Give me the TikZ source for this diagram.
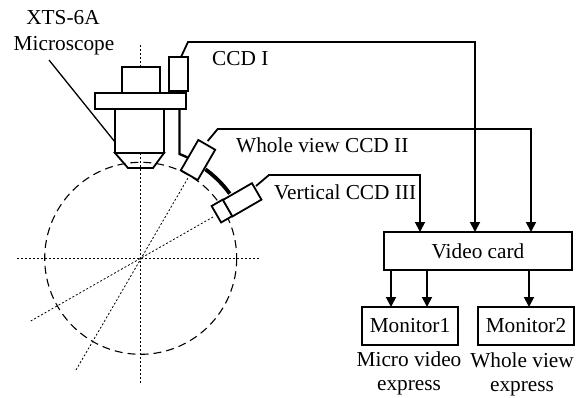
\documentclass[tikz,border=0pt]{standalone}
\usepackage{fontspec}
\setmainfont{Liberation Serif}
\usetikzlibrary{arrows.meta,calc}
\tikzset{
  box/.style={draw=black,fill=white,line width=1.8pt,rectangle,inner sep=0pt,outer sep=0pt},
  wire/.style={draw=black,line width=1.8pt,line join=miter},
  arrowwire/.style={wire,-{Triangle[length=10pt,width=10pt]}},
  thin wire/.style={draw=black,line width=1.3pt},
  axis line/.style={draw=black,line width=0.8pt,dash pattern=on 2pt off 2pt},
  ring/.style={draw=black,line width=1.1pt,dash pattern=on 8pt off 5pt},
  label/.style={font=\fontsize{21.3}{23}\selectfont,inner sep=0pt,text=black},
}
\begin{document}
\begin{tikzpicture}[x=1pt,y=-1pt]
\useasboundingbox (0,0) rectangle (582,397);
\coordinate (c) at (140.7,258.3);
% optical axes and field circle
\draw[ring] (c) circle[radius=96];
\coordinate (axT) at (140.7,45); \coordinate (axB) at (140.7,384);
\coordinate (axL) at (17,258.3); \coordinate (axR) at (259,258.3);
\coordinate (r1a) at (76,370); \coordinate (r1b) at (188,178);
\coordinate (r2a) at (30.7,321); \coordinate (r2b) at (213,217);
\draw[axis line] (axT) -- (axB);
\draw[axis line] (axL) -- (axR);
\draw[axis line] (r1a) -- (r1b);
\draw[axis line] (r2a) -- (r2b);
% rail
\coordinate (railA) at (179.5,109); \coordinate (railB) at (179.5,154);
\draw[line width=2.4pt] (railA) -- (railB) arc[start angle=-68.5,end angle=-60,radius=112];
\draw[line width=3.8pt] (205.4,169.3) arc[start angle=-54,end angle=-36,radius=110];
% microscope
\node[box,minimum width=38pt,minimum height=26pt] (eye) at (141,80) {};
\node[box,minimum width=49pt,minimum height=44pt] (body) at (139.5,131) {};
\node[box,minimum width=91pt,minimum height=16pt] (plate) at (140.5,101) {};
\coordinate (t1) at (115,153); \coordinate (t2) at (128,168);
\coordinate (t3) at (153,168); \coordinate (t4) at (164,153);
\draw[wire] (t1) -- (t2) -- (t3) -- (t4) -- cycle;
% cameras
\node[box,minimum width=19pt,minimum height=34pt] (ccdone) at (178.5,74) {};
\node[box,minimum width=35pt,minimum height=19.5pt,rotate=60] (ccdtwo) at (198,160) {};
\node[box,minimum width=13pt,minimum height=19pt,rotate=30] (lens) at (222,211) {};
\node[box,minimum width=33.5pt,minimum height=19pt,rotate=30] (ccdthree) at (242.2,199.8) {};
% boxes
\node[box,minimum width=188pt,minimum height=38pt,label] (card) at (478,251) {Video card};
\node[box,minimum width=96pt,minimum height=38pt,label] (mon1) at (410,326) {Monitor1};
\node[box,minimum width=96pt,minimum height=38pt,label] (mon2) at (526,326) {Monitor2};
% labels
\node[label,anchor=base] (xts) at (63,24) {XTS-6A};
\node[label,anchor=base] (micro) at (64,50) {Microscope};
\node[label,anchor=base west] (l1) at (212,65) {CCD I};
\node[label,anchor=base west] (l2) at (236,152) {Whole view CCD II};
\node[label,anchor=base west] (l3) at (274,199) {Vertical CCD III};
\node[label,anchor=base] (e1) at (409,366) {Micro video};
\node[label,anchor=base] (e2) at (409,390) {express};
\node[label,anchor=base] (e3) at (522,367) {Whole view};
\node[label,anchor=base] (e4) at (522,391.5) {express};
% leader
\coordinate (lead) at (49,60);
\draw[thin wire] (lead) -- (body.west |- 0,142);
% signal lines
\coordinate (a1) at (188,42); \coordinate (a2) at (475,42);
\coordinate (b1) at (217.7,129); \coordinate (b2) at (531,129);
\coordinate (d1) at (269,175); \coordinate (d2) at (420,175);
\draw[arrowwire] (181,57) -- (a1) -- (a2) -- (a2 |- card.north);
\draw[arrowwire] (207.7,141) -- (b1) -- (b2) -- (b2 |- card.north);
\draw[arrowwire] (256,186) -- (d1) -- (d2) -- (d2 |- card.north);
\coordinate (o1) at (391,270); \coordinate (o2) at (427,270); \coordinate (o3) at (529,270);
\draw[arrowwire] (o1) -- (o1 |- mon1.north);
\draw[arrowwire] (o2) -- (o2 |- mon1.north);
\draw[arrowwire] (o3) -- (o3 |- mon2.north);
\end{tikzpicture}
\end{document}
